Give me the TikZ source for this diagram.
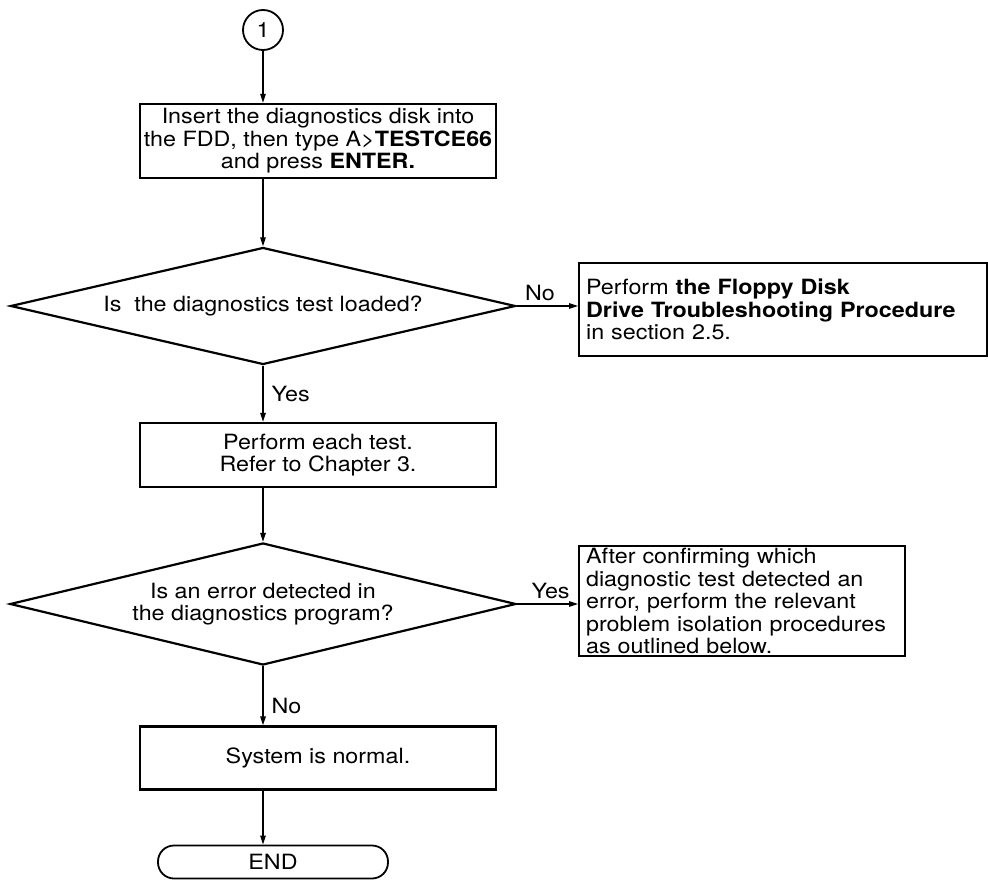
\documentclass[tikz,border=0pt]{standalone}
\usepackage{fontspec}
\setmainfont{TeX Gyre Heros}[FakeStretch=1.11]
\usetikzlibrary{shapes.geometric,arrows.meta}
\newcommand\fs{\fontsize{21}{22.5}\selectfont}
\begin{document}
\begin{tikzpicture}[x=1pt,y=-1pt,
  box/.style={draw, line width=2.2pt, inner sep=0pt, align=center, font=\fs},
  sidebox/.style={draw, line width=2.2pt, inner ysep=0pt, inner xsep=7pt, align=left, anchor=north west, font=\fs},
  dia/.style={diamond, draw, line width=2.2pt, inner sep=0pt, aspect=4.3, align=center, font=\fs},
  conn/.style={line width=1.3pt, -{Triangle[length=9pt,width=5.5pt]}},
  lbl/.style={font=\fs, inner sep=2pt}]
\useasboundingbox (0,0) rectangle (988,880);
\node[circle, draw, line width=1.8pt, minimum size=40pt, inner sep=0pt, font=\fs] (c1) at (263,30) {1};
\node[box, minimum width=356pt, minimum height=74pt] (b1) at (318,141)
  {Insert the diagnostics disk into\\the FDD, then type A>\textbf{TESTCE66}\\and press \textbf{ENTER.}};
\node[dia, minimum width=505pt, minimum height=117pt] (d1) at (263,306) {Is\ \ the diagnostics test loaded?};
\node[sidebox, text width=394pt, minimum height=93pt] (r1) at (578,262)
  {\hyphenpenalty=10000 Perform \textbf{the Floppy Disk}\\\textbf{Drive Troubleshooting Procedure}\\in section 2.5.};
\node[box, minimum width=356pt, minimum height=64pt] (b2) at (318,455) {Perform each test.\\Refer to Chapter 3.};
\node[dia, minimum width=506pt, minimum height=122pt] (d2) at (263,604) {Is an error detected in\\the diagnostics program?};
\node[sidebox, text width=312pt, minimum height=110pt] (r2) at (578,545)
  {\hyphenpenalty=10000 After confirming which\\diagnostic test detected an\\error, perform the relevant\\problem isolation procedures\\as outlined below.};
\node[box, minimum width=356pt, minimum height=63pt] (b3) at (318,758) {System is normal.};
\node[draw, line width=1.8pt, rounded corners=16pt, minimum width=230pt, minimum height=33pt, inner sep=0pt, font=\fs] (e1) at (273,862) {END};
\draw[conn] (c1) -- (c1 |- b1.north);
\draw[conn] (c1 |- b1.south) -- (d1.north);
\draw[conn] (d1.east) -- node[lbl, above, pos=0.38, yshift=3pt]{No} (d1.east -| r1.west);
\draw[conn] (d1.south) -- node[lbl, right, xshift=6pt]{Yes} (d1.south |- b2.north);
\draw[conn] (d1.south |- b2.south) -- (d2.north);
\draw[conn] (d2.east) -- node[lbl, above, pos=0.55, yshift=3pt]{Yes} (d2.east -| r2.west);
\draw[conn] (d2.south) -- node[lbl, right, xshift=6pt, pos=0.68]{No} (d2.south |- b3.north);
\draw[conn] (d2.south |- b3.south) -- (d2.south |- e1.north);
\end{tikzpicture}
\end{document}
